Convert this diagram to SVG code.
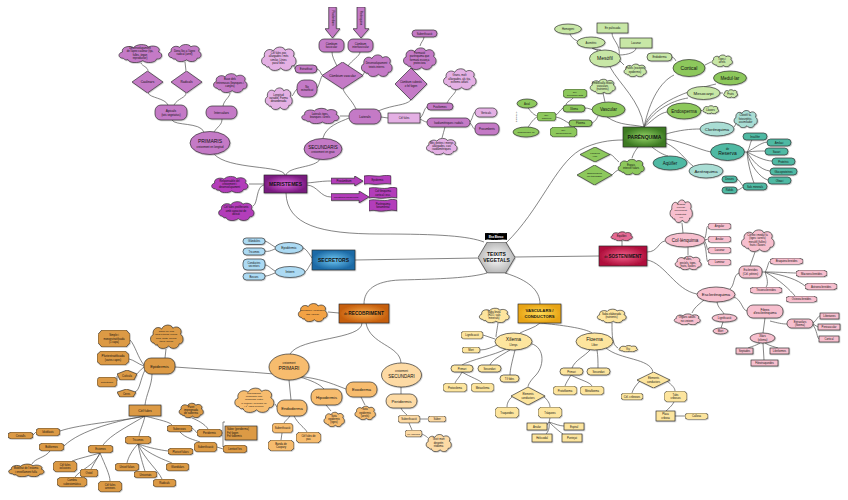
<svg xmlns="http://www.w3.org/2000/svg" width="848" height="500" viewBox="0 0 848 500">
<defs>
<style>
text{font-family:"Liberation Sans",Arial,sans-serif;fill:#111;text-anchor:middle}
.c path{fill:none;stroke:#505050;stroke-width:.7}
.k{stroke:#2a2a2a;stroke-width:.65;filter:url(#sh)}
.s{font-size:2.7px}.t{font-size:3.2px}.m{font-size:4px}.l{font-size:5px}.b{font-weight:bold}
.pm{fill:#c47ac6}.pl{fill:#e4b0e4}.pb{fill:#b33dba}
.gm{fill:#8dc85c}.gl{fill:#c8e7a6}.tm{fill:#4fb9a3}.tl{fill:#a9ddd4}
.bl{fill:#acdaf3}.kl{fill:#f7bfce}.kp{fill:#e56a94}
.om{fill:#dc9a44}.ol{fill:#f7bc6e}.ox{fill:#fddaa4}.ob{fill:#f2a244}.yl{fill:#fde59e}
</style>
<filter id="sh" x="-20%" y="-20%" width="140%" height="140%"><feDropShadow dx="0.6" dy="0.6" stdDeviation="0.4" flood-color="#000" flood-opacity="0.3"/></filter>
<symbol id="cl" viewBox="0 0 100 60" preserveAspectRatio="none"><path vector-effect="non-scaling-stroke" d="M14,46 C2,46 1,30 12,27 C8,12 28,6 36,14 C42,2 64,2 68,12 C80,4 98,14 90,26 C102,32 98,50 86,48 C84,60 64,62 56,53 C46,62 26,60 24,50 C20,52 16,50 14,46 Z"/></symbol>
<symbol id="oc" viewBox="0 0 100 100" preserveAspectRatio="none"><polygon vector-effect="non-scaling-stroke" points="12,0 88,0 100,25 100,75 88,100 12,100 0,75 0,25"/></symbol>
<symbol id="di" viewBox="0 0 100 100" preserveAspectRatio="none"><polygon vector-effect="non-scaling-stroke" points="50,0 100,50 50,100 0,50"/></symbol>
<symbol id="pe" viewBox="0 0 100 100" preserveAspectRatio="none"><polygon vector-effect="non-scaling-stroke" points="50,0 100,40 85,100 15,100 0,40"/></symbol>
<symbol id="hx" viewBox="0 0 100 100" preserveAspectRatio="none"><polygon vector-effect="non-scaling-stroke" points="25,0 75,0 100,50 75,100 25,100 0,50"/></symbol>
<symbol id="ar" viewBox="0 0 100 100" preserveAspectRatio="none"><polygon vector-effect="non-scaling-stroke" points="0,22 74,22 74,0 100,50 74,100 74,78 0,78"/></symbol>
<symbol id="ad" viewBox="0 0 100 100" preserveAspectRatio="none"><polygon vector-effect="non-scaling-stroke" points="25,0 75,0 75,70 100,70 50,100 0,70 25,70"/></symbol>
<symbol id="fl" viewBox="0 0 100 100" preserveAspectRatio="none"><path vector-effect="non-scaling-stroke" d="M0,10 C25,-5 50,25 75,5 C85,0 95,5 100,10 L100,90 C75,75 50,105 25,90 C15,85 5,88 0,92 Z"/></symbol>
<radialGradient id="gP"><stop offset="0" stop-color="#dc62dc"/><stop offset="1" stop-color="#7a1a80"/></radialGradient>
<radialGradient id="gG"><stop offset="0" stop-color="#94d466"/><stop offset="1" stop-color="#3c7a22"/></radialGradient>
<radialGradient id="gB"><stop offset="0" stop-color="#70c8f2"/><stop offset="1" stop-color="#1c6aa6"/></radialGradient>
<radialGradient id="gK"><stop offset="0" stop-color="#f2608c"/><stop offset="1" stop-color="#b0103c"/></radialGradient>
<radialGradient id="gO"><stop offset="0" stop-color="#f8ac4c"/><stop offset="1" stop-color="#c65e0c"/></radialGradient>
<radialGradient id="gY"><stop offset="0" stop-color="#ffdc58"/><stop offset="1" stop-color="#e8a414"/></radialGradient>
<radialGradient id="gH"><stop offset="0" stop-color="#ffffff"/><stop offset="1" stop-color="#b8b8b8"/></radialGradient>
</defs>
<rect width="848" height="500" fill="#fff"/>

<g id="connectors" class="c">
<path d="M484,242 C468,236 440,234 380,234 C320,234 287,225 286,193"/>
<path d="M506,243 C540,210 555,165 580,150 C595,142 610,140 623,140"/>
<path d="M515,257 L599,256"/>
<path d="M478,258 L355,260"/>
<path d="M487,273 C470,278 440,279 400,280 C375,281 364,290 364,304"/>
<path d="M505,273 C528,280 540,290 540,304"/>
<path d="M264,184 L249,184"/>
<path d="M264,185 C256,186 258,204 253,206"/>
<path d="M307,183 C318,182 322,181 331,181"/>
<path d="M307,185 C318,186 320,197 331,197"/>
<path d="M285,175 C283,165 228,170 214,154"/>
<path d="M286,175 C289,166 316,168 320,159"/>
<path d="M204,132 C200,122 175,126 172,120"/>
<path d="M214,132 C218,126 222,125 222,119"/>
<path d="M168,105 C165,98 150,98 148,93"/>
<path d="M174,105 C178,98 186,98 186,93"/>
<path d="M148,71 C148,67 142,66 141,63"/>
<path d="M186,71 L185,62"/>
<path d="M223,106 C224,100 230,97 230,93"/>
<path d="M323,138 C326,126 340,122 349,118"/>
<path d="M349,116 L340,116"/>
<path d="M356,109 C352,100 345,95 343,89"/>
<path d="M381,117 L388,118"/>
<path d="M378,111 C395,104 405,106 411,100"/>
<path d="M337,66 C334,60 332,56 332,52"/>
<path d="M348,66 C352,60 360,56 360,52"/>
<path d="M322,75 C320,72 320,70 317,69"/>
<path d="M322,76 C320,80 319,86 317,88"/>
<path d="M295,69 C294,67 294,66 294,65"/>
<path d="M297,89 C294,92 294,94 292,96"/>
<path d="M363,75 C365,72 365,70 366,68"/>
<path d="M411,68 L415,69"/>
<path d="M420,46 C421,42 424,40 424,37"/>
<path d="M420,118 C424,115 424,108 427,107"/>
<path d="M420,119 C424,121 425,122 427,122"/>
<path d="M447,103 C450,97 455,94 456,90"/>
<path d="M470,122 C473,118 473,113 475,112"/>
<path d="M470,123 C473,126 473,129 475,129"/>
<path d="M445,127 C444,131 443,134 442,138"/>
<path d="M607,117 C620,126 632,124 644,127"/>
<path d="M644,127 C640,100 620,85 610,67"/>
<path d="M644,127 C650,100 660,82 674,75"/>
<path d="M644,127 C652,102 690,90 716,84"/>
<path d="M644,127 C655,108 675,100 688,98"/>
<path d="M644,127 C655,118 660,113 667,112"/>
<path d="M666,134 C680,130 690,129 700,129"/>
<path d="M666,139 C685,142 700,150 711,152"/>
<path d="M666,143 C680,150 685,160 693,166"/>
<path d="M652,147 C658,152 664,155 668,156"/>
<path d="M598,51 C590,45 572,42 570,34"/>
<path d="M601,50 C598,49 594,50 592,48"/>
<path d="M619,55 C621,45 612,40 612,33"/>
<path d="M619,55 C628,55 636,52 636,48"/>
<path d="M620,61 L624,65"/>
<path d="M672,57 C675,58 675,60 676,61"/>
<path d="M705,65 L711,62"/>
<path d="M720,93 L723,93"/>
<path d="M701,111 L702,110"/>
<path d="M734,127 L736,124"/>
<path d="M744,152 L747,152"/>
<path d="M747,152 C750,148 750,142 752,140"/>
<path d="M747,152 C755,148 760,143 767,142"/>
<path d="M747,152 C755,151 760,151 765,151"/>
<path d="M747,152 C755,156 765,161 772,161"/>
<path d="M747,152 C752,160 760,170 770,171"/>
<path d="M747,152 C750,165 760,178 768,180"/>
<path d="M747,152 C748,165 752,178 754,183"/>
<path d="M743,186 C740,182 739,180 737,179"/>
<path d="M743,187 C740,189 739,190 737,190"/>
<path d="M593,110 C590,109 588,108 585,108"/>
<path d="M592,123 C596,121 597,118 598,116"/>
<path d="M605,102 L603,93"/>
<path d="M563,108 C560,110 558,114 556,115"/>
<path d="M556,117 C562,118 566,122 569,123"/>
<path d="M572,126 C568,127 565,127 564,127"/>
<path d="M566,105 C566,102 572,100 573,98"/>
<path d="M537,116 C532,114 530,110 528,108"/>
<path d="M537,117 C532,120 530,125 528,127"/>
<path d="M632,158 C634,152 636,150 638,147"/>
<path d="M610,154 C614,156 616,160 619,162"/>
<path d="M612,175 C615,172 617,170 619,170"/>
<path d="M312,258 C308,252 306,249 303,248"/>
<path d="M312,262 C308,268 307,271 305,272"/>
<path d="M275,247 C270,244 268,242 265,241"/>
<path d="M275,249 C270,251 268,252 265,251"/>
<path d="M275,271 C270,268 268,265 265,265"/>
<path d="M275,273 C270,275 268,276 265,276"/>
<path d="M622,241 L622,246"/>
<path d="M647,252 C658,252 658,242 665,241"/>
<path d="M647,260 C665,263 675,290 697,294"/>
<path d="M683,233 L682,223"/>
<path d="M705,238 C707,232 706,227 708,226"/>
<path d="M705,240 L708,239"/>
<path d="M705,242 C707,245 707,250 708,250"/>
<path d="M704,243 C707,250 706,261 708,262"/>
<path d="M688,247 L688,255"/>
<path d="M730,289 C735,285 733,275 739,273"/>
<path d="M734,297 C742,300 742,310 747,311"/>
<path d="M704,300 C698,305 694,308 692,313"/>
<path d="M717,302 C718,308 722,310 724,314"/>
<path d="M723,322 L721,328"/>
<path d="M750,266 L755,252"/>
<path d="M762,272 L765,272"/>
<path d="M765,272 C768,268 768,262 770,261"/>
<path d="M765,272 C780,272 790,273 796,273"/>
<path d="M765,272 C785,275 798,280 805,286"/>
<path d="M765,272 C780,280 790,290 795,296"/>
<path d="M765,272 C768,280 768,285 766,287"/>
<path d="M765,318 L763,333"/>
<path d="M770,321 C778,323 782,324 787,324"/>
<path d="M813,323 C817,320 818,316 820,316"/>
<path d="M813,324 L818,327"/>
<path d="M813,325 C817,330 817,338 819,339"/>
<path d="M760,343 C755,346 750,347 748,348"/>
<path d="M765,343 C770,346 775,347 778,348"/>
<path d="M763,343 L764,360"/>
<path d="M328,312 L339,313"/>
<path d="M362,323 C362,340 300,337 290,354"/>
<path d="M366,323 C370,345 400,345 401,363"/>
<path d="M175,367 C215,370 260,372 305,377 C325,380 335,385 346,389"/>
<path d="M300,377 C310,380 320,384 324,389"/>
<path d="M289,380 L291,400"/>
<path d="M277,407 L275,404"/>
<path d="M290,416 C288,419 285,421 284,423"/>
<path d="M294,416 C298,424 305,428 307,432"/>
<path d="M282,433 L281,440"/>
<path d="M326,405 L331,411"/>
<path d="M361,397 C362,400 364,402 365,405"/>
<path d="M401,387 L401,394"/>
<path d="M401,408 C402,411 405,413 407,415"/>
<path d="M420,419 L428,419"/>
<path d="M409,423 L412,430"/>
<path d="M422,434 C426,436 427,437 428,438"/>
<path d="M165,358 L166,349"/>
<path d="M144,365 C138,358 135,345 130,340"/>
<path d="M144,366 C138,364 134,360 129,359"/>
<path d="M144,367 C140,370 138,373 136,375"/>
<path d="M145,370 C140,380 140,390 135,392"/>
<path d="M117,376 L117,381"/>
<path d="M152,374 C152,385 146,395 145,405"/>
<path d="M145,416 C130,420 80,424 60,431"/>
<path d="M145,416 C120,420 80,430 64,446"/>
<path d="M145,416 C130,425 110,435 103,445"/>
<path d="M145,416 C143,425 140,430 139,436"/>
<path d="M145,416 C160,420 170,422 172,425"/>
<path d="M36,432 L33,435"/>
<path d="M50,451 C45,458 35,458 32,464"/>
<path d="M100,453 C90,456 80,458 72,461"/>
<path d="M100,453 L91,469"/>
<path d="M100,453 C95,465 80,470 75,477"/>
<path d="M100,453 C105,465 110,475 110,481"/>
<path d="M138,444 C132,450 128,458 127,463"/>
<path d="M138,444 C140,455 143,465 145,471"/>
<path d="M138,444 C145,460 158,470 162,479"/>
<path d="M138,444 C150,455 165,460 172,463"/>
<path d="M138,444 C150,448 160,450 168,451"/>
<path d="M192,428 C195,430 196,432 197,433"/>
<path d="M180,432 C185,438 195,440 200,442"/>
<path d="M192,418 C197,420 205,424 208,429"/>
<path d="M222,433 L223,433"/>
<path d="M217,447 L223,449"/>
<path d="M225,422 L223,422 L223,447 L225,447"/>
<path d="M498,323 C497,330 496,335 496,337"/>
<path d="M483,335 L495,339"/>
<path d="M480,350 C487,350 492,347 497,345"/>
<path d="M540,323 C535,328 525,330 520,333"/>
<path d="M540,323 C560,325 585,328 592,333"/>
<path d="M506,349 C495,355 470,360 462,365"/>
<path d="M510,350 C500,356 492,360 490,365"/>
<path d="M515,350 C512,362 510,370 510,375"/>
<path d="M528,343 C545,345 545,365 536,375 C530,381 528,385 528,387"/>
<path d="M462,372 C460,377 456,380 455,383"/>
<path d="M462,372 C470,377 480,380 482,383"/>
<path d="M513,396 C508,400 507,404 507,407"/>
<path d="M543,396 C548,400 550,404 550,407"/>
<path d="M550,418 L549,422"/>
<path d="M549,422 L546,426"/>
<path d="M549,422 C555,424 560,426 564,426"/>
<path d="M549,422 C550,428 548,432 546,434"/>
<path d="M549,422 C555,428 560,432 563,434"/>
<path d="M612,323 C612,335 612,345 618,348"/>
<path d="M590,350 C585,356 575,360 572,368"/>
<path d="M597,350 C598,356 598,362 598,368"/>
<path d="M571,375 C568,380 566,383 565,386"/>
<path d="M571,375 C580,380 590,382 592,386"/>
<path d="M606,348 C620,360 650,358 653,372"/>
<path d="M640,381 C636,385 633,389 632,393"/>
<path d="M667,381 C672,385 675,388 675,391"/>
<path d="M674,402 C672,406 668,409 666,411"/>
<path d="M675,416 L685,416"/>
</g>

<!-- Central -->
<g id="n-teixits"><use href="#hx" class="k" fill="url(#gH)" x="478" y="242" width="37" height="31"/><text class="l b" x="496.5" y="255.5">TEIXITS</text><text class="l b" x="496.5" y="262">VEGETALS</text></g>
<g id="n-elsa"><use href="#fl" x="485" y="233" width="22" height="7" fill="#000" stroke="#000"/><text x="496" y="237.8" style="font-size:2.6px;font-weight:bold;fill:#fff">Elsa Blanco</text></g>

<!-- Purple -->
<g id="n-cl-caul"><use href="#cl" class="k pm" x="117" y="43" width="46" height="20"/><text class="s" x="140" y="49.1"><tspan x="140">Desenvolupament</tspan><tspan x="140" dy="3.3">de l'àpex caulinar (tija,</tspan><tspan x="140" dy="3.3">fulles, òrgan</tspan><tspan x="140" dy="3.3">reproductor)</tspan></text></g>
<g id="n-cl-rad"><use href="#cl" class="k pm" x="167" y="43" width="35" height="19"/><text class="s" x="184.5" y="51.9"><tspan x="184.5">Dona lloc a l'àpex</tspan><tspan x="184.5" dy="3.3">radical (arrel)</tspan></text></g>
<g id="n-cl-base"><use href="#cl" class="k pm" x="212" y="72" width="36" height="21"/><text class="s" x="230" y="80.3"><tspan x="230">Base dels</tspan><tspan x="230" dy="3.3">entrenusos (branques i</tspan><tspan x="230" dy="3.3">canyes)</tspan></text></g>
<g id="n-caulinars"><use href="#di" class="k pm" x="132" y="71" width="31" height="22"/><text class="t" x="147.5" y="83.2">Caulinars</text></g>
<g id="n-radicals"><use href="#di" class="k pm" x="171" y="71" width="31" height="22"/><text class="t" x="186.5" y="83.2">Radicals</text></g>
<g id="n-apicals"><rect class="k pm" x="155" y="105" width="32" height="15" rx="6"/><text class="t" x="171" y="111.5">Apicals</text><text class="s" x="171" y="116">(tots vegetatius)</text></g>
<g id="n-intercalars"><rect class="k pm" x="206" y="106" width="31" height="13" rx="6"/><text class="t" x="221.5" y="113.7">Intercalars</text></g>
<g id="n-primaris"><ellipse class="k pm" cx="210" cy="143" rx="20" ry="11.5"/><text class="l" x="210" y="143">PRIMARIS</text><text class="s" x="210" y="147.5">creixement en longitud</text></g>
<g id="n-cl-poc"><use href="#cl" class="k pl" x="260" y="45" width="37" height="26"/><text class="s" x="278.5" y="54.1"><tspan x="278.5">Cèl·lules poc</tspan><tspan x="278.5" dy="3.3">allargades i més</tspan><tspan x="278.5" dy="3.3">similar. Línies</tspan><tspan x="278.5" dy="3.3">paral·leles</tspan></text></g>
<g id="n-cl-long"><use href="#cl" class="k pl" x="264" y="86" width="29" height="24"/><text class="s" x="278.5" y="95.8"><tspan x="278.5">Longitud</tspan><tspan x="278.5" dy="3.3">variable. Forma</tspan><tspan x="278.5" dy="3.3">desordenada</tspan></text></g>
<g id="n-estrat"><rect class="k pm" x="295" y="65" width="22" height="8" rx="4"/><text class="s" x="306" y="70">Estratificat</text></g>
<g id="n-noestrat"><rect class="k pm" x="297" y="80" width="20" height="17" rx="7"/><text class="s" x="307" y="87.9"><tspan x="307">No</tspan><tspan x="307" dy="3.3">estratificat</tspan></text></g>
<g id="n-arr-proc"><use href="#ad" class="k pm" x="325" y="7" width="15" height="31"/><text class="s" transform="translate(332.5,18) rotate(90)" y="1">Procàmbium</text></g>
<g id="n-arr-par"><use href="#ad" class="k pm" x="353" y="7" width="16" height="31"/><text class="s" transform="translate(361,18) rotate(90)" y="1">Parènquima</text></g>
<g id="n-cfasc"><rect class="k pm" x="319" y="39" width="25" height="13" rx="5"/><text class="s" x="331.5" y="44.9"><tspan x="331.5">Càmbium</tspan><tspan x="331.5" dy="3.3">fascicular</tspan></text></g>
<g id="n-cinter"><rect class="k pm" x="348" y="39" width="25" height="13" rx="5"/><text class="s" x="360.5" y="44.9"><tspan x="360.5">Càmbium</tspan><tspan x="360.5" dy="3.3">interfascicular</tspan></text></g>
<g id="n-cvasc"><use href="#di" class="k pm" x="322" y="62" width="41" height="27"/><text class="t" x="342.5" y="76.6">Càmbium vascular</text></g>
<g id="n-cl-desenv"><use href="#cl" class="k pm" x="360" y="53" width="33" height="24"/><text class="s" x="376.5" y="64.4"><tspan x="376.5">Desenvolupament</tspan><tspan x="376.5" dy="3.3">teixits interns</tspan></text></g>
<g id="n-csuber"><use href="#di" class="k pm" x="395" y="68" width="32" height="32"/><text class="s" x="411" y="83.4"><tspan x="411">Càmbium suberós</tspan><tspan x="411" dy="3.3">o fel·logen</tspan></text></g>
<g id="n-cl-form"><use href="#cl" class="k pm" x="402" y="46" width="35" height="24"/><text class="s" x="419.5" y="54.1"><tspan x="419.5">Formació</tspan><tspan x="419.5" dy="3.3">parènquima que</tspan><tspan x="419.5" dy="3.3">formarà escorça</tspan><tspan x="419.5" dy="3.3">protectora</tspan></text></g>
<g id="n-suberif1"><rect class="k pm" x="412" y="30" width="25" height="7" rx="3.5"/><text class="s" x="424.5" y="34.5">Suberificació</text></g>
<g id="n-cl-grans"><use href="#cl" class="k pl" x="442" y="67" width="35" height="23"/><text class="s" x="459.5" y="76.3"><tspan x="459.5">Grans, molt</tspan><tspan x="459.5" dy="3.3">allargades, als tija,</tspan><tspan x="459.5" dy="3.3">extrems afilats</tspan></text></g>
<g id="n-laterals"><rect class="k pm" x="349" y="109" width="32" height="15" rx="7"/><text class="t" x="365" y="117.7">Laterals</text></g>
<g id="n-cl-lat"><use href="#cl" class="k pm" x="300" y="107" width="40" height="17"/><text class="s" x="320" y="114.9"><tspan x="320">Laterals tiges,</tspan><tspan x="320" dy="3.3">branques i arrels</tspan></text></g>
<g id="n-cellules1"><rect class="k pl" x="388" y="113" width="32" height="10"/><text class="s" x="404" y="119">Cèl·lules</text></g>
<g id="n-fusif"><rect class="k pm" x="427" y="103" width="26" height="7" rx="3.5"/><text class="s" x="440" y="107.5">Fusiformes</text></g>
<g id="n-isod"><rect class="k pm" x="427" y="118" width="43" height="9" rx="4.5"/><text class="s" x="448.5" y="123.5">Isodiamètriques i radials</text></g>
<g id="n-vertic"><rect class="k pl" x="475" y="108" width="22" height="9" rx="4.5"/><text class="s" x="486" y="113.5">Verticals</text></g>
<g id="n-procumb"><rect class="k pm" x="475" y="123" width="24" height="12" rx="5"/><text class="s" x="487" y="130">Procumbents</text></g>
<g id="n-cl-mes"><use href="#cl" class="k pl" x="425" y="137" width="33" height="18"/><text class="s" x="441.5" y="143.8"><tspan x="441.5">Més petites i menys</tspan><tspan x="441.5" dy="3.3">allargades, casi</tspan><tspan x="441.5" dy="3.3">isodiamètriques</tspan></text></g>
<g id="n-secundaris"><ellipse class="k pm" cx="323" cy="149" rx="19" ry="10.5"/><text x="323" y="149" style="font-size:4.5px">SECUNDARIS</text><text class="s" x="323" y="153">creixement en gruix</text></g>
<g id="n-meristemes"><rect class="k" fill="url(#gP)" x="264" y="175" width="43" height="18"/><text class="l b" x="285.5" y="185.8">MERISTEMES</text></g>
<g id="n-cl-resp"><use href="#cl" class="k pb" x="210" y="175" width="39" height="18"/><text class="s" x="229.5" y="181.8"><tspan x="229.5">Responsable del</tspan><tspan x="229.5" dy="3.3">creixement i</tspan><tspan x="229.5" dy="3.3">desenvolupament</tspan></text></g>
<g id="n-cl-prolif"><use href="#cl" class="k pb" x="217" y="200" width="38" height="21"/><text class="s" x="236" y="208.3"><tspan x="236">Cèl·lules proliferants</tspan><tspan x="236" dy="3.3">amb capacitat de</tspan><tspan x="236" dy="3.3">divisió</tspan></text></g>
<g id="n-procamb"><use href="#ar" class="k pb" x="331" y="176" width="32" height="10"/><text class="s" x="344" y="182">Procàmbium</text></g>
<g id="n-epid-fl"><use href="#fl" class="k pb" x="364" y="175" width="27" height="10"/><text class="s" x="377.5" y="181">Epidermis</text></g>
<g id="n-merfon"><use href="#ar" class="k pb" x="331" y="191" width="38" height="12"/><text x="346" y="198" style="font-size:2.5px">Meristema fonamental</text></g>
<g id="n-fl-col"><use href="#fl" class="k pb" x="369" y="187" width="28" height="12"/><text class="s" x="383" y="192.4"><tspan x="383">Col·lènquima</tspan><tspan x="383" dy="3.3">cortical i esc.</tspan></text></g>
<g id="n-fl-par"><use href="#fl" class="k pb" x="369" y="199" width="28" height="13"/><text class="s" x="383" y="204.9"><tspan x="383">Parènquima</tspan><tspan x="383" dy="3.3">fonamental</tspan></text></g>

<!-- Green -->
<g id="n-homog"><ellipse class="k gl" cx="568" cy="29" rx="13.5" ry="5"/><text class="s" x="568" y="30">Homogeni</text></g>
<g id="n-asim"><ellipse class="k gl" cx="591" cy="42.5" rx="14" ry="5.5"/><text class="s" x="591" y="43.5">Asimètric</text></g>
<g id="n-palis"><rect class="k gl" x="597" y="23" width="31" height="10"/><text class="s" x="612.5" y="29">En palissada</text></g>
<g id="n-lacunar1"><rect class="k gl" x="620" y="38" width="32" height="10"/><text class="s" x="636" y="44">Lacunar</text></g>
<g id="n-mesofil"><ellipse class="k gl" cx="605" cy="58.5" rx="15.5" ry="8.5"/><text class="l" x="605" y="60.3">Mesòfil</text></g>
<g id="n-cl-fulles"><use href="#cl" class="k gl" x="623" y="63" width="24" height="14"/><text class="s" x="635" y="69.4"><tspan x="635">Fulles (excepte</tspan><tspan x="635" dy="3.3">epidermis)</tspan></text></g>
<g id="n-endod1"><rect class="k gl" x="647" y="53" width="25" height="8" rx="4"/><text class="s" x="659.5" y="58">Endoderma</text></g>
<g id="n-cortical"><ellipse class="k gm" cx="689" cy="68" rx="16" ry="8.5"/><text class="l" x="689" y="69.8">Cortical</text></g>
<g id="n-cl-tiges"><use href="#cl" class="k gl" x="711" y="54" width="22" height="13"/><text class="s" x="722" y="59.9"><tspan x="722">Tiges i</tspan><tspan x="722" dy="3.3">arrels</tspan></text></g>
<g id="n-medul"><ellipse class="k gm" cx="730" cy="78" rx="16.5" ry="7"/><text x="730" y="79.6" style="font-size:4.5px">Medul·lar</text></g>
<g id="n-mesoc"><ellipse class="k gl" cx="703.5" cy="93" rx="16.5" ry="6.5"/><text x="703.5" y="94.6" style="font-size:4.3px">Mesocarpi</text></g>
<g id="n-cl-fruits"><use href="#cl" class="k gl" x="723" y="89" width="15" height="9"/><text class="s" x="730.5" y="94.5">Fruits</text></g>
<g id="n-endosp"><ellipse class="k gm" cx="684" cy="111" rx="17" ry="8"/><text x="684" y="112.6" style="font-size:4.5px">Endosperma</text></g>
<g id="n-cl-llav"><use href="#cl" class="k gl" x="702" y="105" width="17" height="9"/><text class="s" x="710.5" y="110.5">Llavors</text></g>
<g id="n-cloren"><ellipse class="k tl" cx="717" cy="129" rx="17" ry="7"/><text x="717" y="130.6" style="font-size:4.3px">Clorènquima</text></g>
<g id="n-cl-clorof"><use href="#cl" class="k tl" x="733" y="109" width="25" height="19"/><text class="s" x="745.5" y="116.3"><tspan x="745.5">Clorofil·la,</tspan><tspan x="745.5" dy="3.3">fotosintètic,</tspan><tspan x="745.5" dy="3.3">assimilador</tspan></text></g>
<g id="n-reserva"><ellipse class="k tm" cx="727.5" cy="152" rx="17" ry="8.5"/><text class="s" x="727.5" y="149.5">de</text><text class="l" x="727.5" y="155">Reserva</text></g>
<g id="n-insul"><rect class="k tm" x="743" y="133" width="24" height="7" rx="3.5"/><text class="s" x="755" y="137.5">Insulífer</text></g>
<g id="n-amil"><rect class="k tm" x="767" y="139" width="24" height="7" rx="3.5"/><text class="s" x="779" y="143.5">Amilaci</text></g>
<g id="n-sacar"><rect class="k tm" x="765" y="148" width="23" height="7" rx="3.5"/><text class="s" x="776.5" y="152.5">Sacari</text></g>
<g id="n-prot"><rect class="k tm" x="772" y="158" width="23" height="7" rx="3.5"/><text class="s" x="783.5" y="162.5">Proteínic</text></g>
<g id="n-gluco"><rect class="k tm" x="770" y="168" width="27" height="7" rx="3.5"/><text class="s" x="783.5" y="172.5">Glucoproteïnes</text></g>
<g id="n-oleaci"><rect class="k tm" x="768" y="177" width="23" height="7" rx="3.5"/><text class="s" x="779.5" y="181.5">Oleaci</text></g>
<g id="n-sals"><rect class="k tm" x="743" y="183" width="24" height="7" rx="3.5"/><text class="s" x="755" y="187.5">Sals minerals</text></g>
<g id="n-druses"><rect class="k tm" x="722" y="176" width="15" height="6.5" rx="3.2"/><text class="s" x="729.5" y="180.3">Druses</text></g>
<g id="n-rafids"><rect class="k tm" x="722" y="187" width="15" height="6.5" rx="3.2"/><text class="s" x="729.5" y="191.3">Ràfids</text></g>
<g id="n-aeren"><ellipse class="k tl" cx="706" cy="171" rx="17" ry="7"/><text x="706" y="172.6" style="font-size:4.3px">Aerènquima</text></g>
<g id="n-aquif"><ellipse class="k tm" cx="670" cy="163" rx="17" ry="7"/><text x="670" y="164.6" style="font-size:4.5px">Aqüífer</text></g>
<g id="n-vascular"><ellipse class="k gm" cx="608.5" cy="109.5" rx="16.5" ry="7.5"/><text x="608.5" y="111.1" style="font-size:4.5px">Vascular</text></g>
<g id="n-cl-embol"><use href="#cl" class="k gl" x="589" y="78" width="27" height="16"/><text class="s" x="602.5" y="83.8"><tspan x="602.5">Embolcalla feixos</tspan><tspan x="602.5" dy="3.3">vasculars</tspan><tspan x="602.5" dy="3.3">(nutrients)</tspan></text></g>
<g id="n-xil1"><rect class="k gm" x="563" y="105" width="22" height="7" rx="3.5"/><text class="s" x="574" y="109.5">Xilema</text></g>
<g id="n-flo1"><rect class="k gm" x="569" y="120" width="23" height="6.5" rx="3.2"/><text class="s" x="580.5" y="124.2">Floema</text></g>
<g id="n-acomp"><use href="#oc" class="k gm" x="563" y="89" width="24" height="9"/><text x="575" y="92.9" style="font-size:2.5px"><tspan x="575">Cèl.</tspan><tspan x="575" dy="3">acompanyants</tspan></text></g>
<g id="n-annex1"><use href="#oc" class="k gm" x="537" y="112" width="19" height="9"/><text x="546.5" y="115.9" style="font-size:2.5px"><tspan x="546.5">Cèl.</tspan><tspan x="546.5" dy="3">annexes</tspan></text></g>
<g id="n-albumin"><use href="#oc" class="k gm" x="550" y="127" width="27" height="10"/><text x="563.5" y="131.4" style="font-size:2.5px"><tspan x="563.5">Cèl.</tspan><tspan x="563.5" dy="3">albuminòferes</tspan></text></g>
<g id="n-axial"><ellipse class="k gm" cx="527" cy="103.5" rx="10" ry="4.5"/><text class="s" x="527" y="104.5">Axial</text></g>
<g id="n-radiom"><ellipse class="k gm" cx="526" cy="132" rx="13" ry="5"/><text x="526" y="133" style="font-size:2.5px">Radiomedul·lar</text></g>
<text x="517" y="117" transform="rotate(-90 517 117)" style="font-size:2.3px">Disposició</text>
<g id="n-parenq"><rect class="k" fill="url(#gG)" x="623" y="127" width="43" height="20"/><text class="l b" x="644.5" y="138.8">PARÈNQUIMA</text></g>
<g id="n-lisig"><use href="#di" class="k gm" x="580" y="147" width="30" height="15"/><text x="595" y="153.9" style="font-size:2.5px"><tspan x="595">Lisígens</tspan><tspan x="595" dy="3">(Lis)</tspan></text></g>
<g id="n-esquiz"><use href="#di" class="k gm" x="577" y="165" width="35" height="20"/><text x="594.5" y="174.4" style="font-size:2.5px"><tspan x="594.5">Esquizògens</tspan><tspan x="594.5" dy="3">(no traumàtic)</tspan></text></g>
<g id="n-cl-espais"><use href="#cl" class="k gm" x="617" y="158" width="28" height="17"/><text class="s" x="631" y="165.9"><tspan x="631">Espais</tspan><tspan x="631" dy="3.3">intercel·lulars</tspan></text></g>

<!-- Blue -->
<g id="n-secretors"><rect class="k" fill="url(#gB)" x="312" y="250" width="43" height="20"/><text class="l b" x="333.5" y="261.8">SECRETORS</text></g>
<g id="n-epider"><ellipse class="k bl" cx="289" cy="248" rx="14" ry="5.5"/><text x="289" y="249.2" style="font-size:3.5px">Epidèrmic</text></g>
<g id="n-intern"><ellipse class="k bl" cx="290" cy="272" rx="15" ry="5.5"/><text x="290" y="273.2" style="font-size:3.5px">Intern</text></g>
<g id="n-gland"><rect class="k bl" x="243" y="238" width="22" height="6.5" rx="3.2"/><text class="s" x="254" y="242.2">Glàndules</text></g>
<g id="n-tric1"><rect class="k bl" x="243" y="248" width="22" height="7" rx="3.5"/><text class="s" x="254" y="252.5">Tricomes</text></g>
<g id="n-conduct"><rect class="k bl" x="243" y="259" width="22" height="11" rx="4"/><text class="s" x="254" y="263.9"><tspan x="254">Conductes</tspan><tspan x="254" dy="3.3">secretors</tspan></text></g>
<g id="n-bosses"><rect class="k bl" x="243" y="273" width="22" height="7" rx="3.5"/><text class="s" x="254" y="277.5">Bosses</text></g>

<!-- Pink -->
<g id="n-sostenim"><rect class="k" fill="url(#gK)" x="599" y="246" width="48" height="20"/><text x="623" y="257.7" style="font-size:4.6px;font-weight:bold"><tspan style="font-size:3px;font-weight:normal">de </tspan>SOSTENIMENT</text></g>
<g id="n-cl-equil"><use href="#cl" class="k kp" x="610" y="231" width="23" height="10"/><text class="s" x="621.5" y="237">Equilibri</text></g>
<g id="n-cl-organs"><use href="#cl" class="k kl" x="669" y="198" width="24" height="25"/><text x="681" y="205" style="font-size:2.5px"><tspan x="681">Òrgans</tspan><tspan x="681" dy="3.2">període</tspan><tspan x="681" dy="3.2">creixement.</tspan><tspan x="681" dy="3.2">Plasticitat.</tspan><tspan x="681" dy="3.2">Viu</tspan></text></g>
<g id="n-collenq"><ellipse class="k kl" cx="685" cy="240" rx="20" ry="7"/><text x="685" y="241.6" style="font-size:4.5px">Col·lènquima</text></g>
<g id="n-angular"><use href="#oc" class="k kl" x="708" y="223" width="23" height="6.5"/><text class="s" x="719.5" y="227.3">Angular</text></g>
<g id="n-anular1"><use href="#oc" class="k kl" x="708" y="236" width="23" height="6.5"/><text class="s" x="719.5" y="240.3">Anular</text></g>
<g id="n-lacunar2"><use href="#oc" class="k kl" x="708" y="247" width="23" height="6.5"/><text class="s" x="719.5" y="251.3">Lacunar</text></g>
<g id="n-laminar"><use href="#oc" class="k kl" x="708" y="259" width="23" height="6.5"/><text class="s" x="719.5" y="263.3">Laminar</text></g>
<g id="n-cl-fulles2"><use href="#cl" class="k kl" x="674" y="255" width="28" height="15"/><text class="s" x="688" y="260.3"><tspan x="688">Fulles,</tspan><tspan x="688" dy="3.3">pecíols, tiges,</tspan><tspan x="688" dy="3.3">fruits, llavors</tspan></text></g>
<g id="n-escleren"><ellipse class="k kl" cx="716" cy="294.5" rx="19" ry="7.5"/><text x="716" y="296" style="font-size:4.3px">Esclerènquima</text></g>
<g id="n-cl-cortex"><use href="#cl" class="k kl" x="740" y="228" width="35" height="24"/><text class="s" x="757.5" y="236.1"><tspan x="757.5">Còrtex i medul·la</tspan><tspan x="757.5" dy="3.3">(tiges i arrels)</tspan><tspan x="757.5" dy="3.3">mesòfil (fulles)</tspan><tspan x="757.5" dy="3.3">fruits i llavors</tspan></text></g>
<g id="n-esclereid"><rect class="k kl" x="739" y="266" width="23" height="12" rx="5"/><text class="s" x="750.5" y="271.4"><tspan x="750.5">Esclereïdes</tspan><tspan x="750.5" dy="3.3">(Cèl. pètries)</tspan></text></g>
<g id="n-braqui"><use href="#oc" class="k kl" x="770" y="258" width="33" height="6.5"/><text class="s" x="786.5" y="262.3">Braquiesclereïdes</text></g>
<g id="n-macro"><use href="#oc" class="k kl" x="796" y="270" width="31" height="7"/><text class="s" x="811.5" y="274.5">Macroesclereïdes</text></g>
<g id="n-astro"><use href="#oc" class="k kl" x="805" y="283" width="32" height="7"/><text class="s" x="821" y="287.5">Astroesclereïdes</text></g>
<g id="n-osteo"><use href="#oc" class="k kl" x="786" y="296" width="31" height="6.5"/><text class="s" x="801.5" y="300.3">Osteosclereïdes</text></g>
<g id="n-trico"><use href="#oc" class="k kl" x="750" y="287" width="32" height="6.5"/><text class="s" x="766" y="291.3">Tricoesclereïdes</text></g>
<g id="n-fibres"><rect class="k kl" x="747" y="305" width="36" height="13" rx="6"/><text class="t" x="765" y="310.9"><tspan x="765">Fibres</tspan><tspan x="765" dy="3.4">d'esclerènquima</tspan></text></g>
<g id="n-extrax"><rect class="k kl" x="787" y="319" width="26" height="9" rx="4.5"/><text class="s" x="800" y="322.9"><tspan x="800">Extraxilars</tspan><tspan x="800" dy="3.3">(floema)</tspan></text></g>
<g id="n-liber"><rect class="k kl" x="820" y="313" width="19" height="6"/><text class="s" x="829.5" y="317">Liberianes</text></g>
<g id="n-periv"><rect class="k kl" x="818" y="324" width="22" height="6"/><text class="s" x="829" y="328">Perivascular</text></g>
<g id="n-cortical2"><rect class="k kl" x="819" y="336" width="20" height="6"/><text class="s" x="829" y="340">Cortical</text></g>
<g id="n-xilars"><ellipse class="k kl" cx="762.5" cy="338" rx="12.5" ry="5"/><text class="s" x="762.5" y="337.4"><tspan x="762.5">Xilars</tspan><tspan x="762.5" dy="3.3">(xilema)</tspan></text></g>
<g id="n-septades"><rect class="k kl" x="736" y="348" width="17" height="6"/><text class="s" x="744.5" y="352">Septades</text></g>
<g id="n-librif"><rect class="k kl" x="770" y="348" width="19" height="6"/><text class="s" x="779.5" y="352">Libriformes</text></g>
<g id="n-fibrotr"><rect class="k kl" x="751" y="360" width="27" height="6"/><text class="s" x="764.5" y="364">Fibrotraqueides</text></g>
<g id="n-cl-adults"><use href="#cl" class="k kl" x="673" y="313" width="28" height="12"/><text class="s" x="687" y="318.4"><tspan x="687">Òrgans adults</tspan><tspan x="687" dy="3.3">no creixen</tspan></text></g>
<g id="n-lignif1"><ellipse class="k kl" cx="724.5" cy="318" rx="12.5" ry="4"/><text class="s" x="724.5" y="319">Lignificació</text></g>
<g id="n-mort1"><ellipse class="k kl" cx="720.5" cy="331" rx="7.5" ry="3"/><text class="s" x="720.5" y="332">Mort</text></g>

<!-- Orange recobriment -->
<g id="n-recob"><rect class="k" fill="url(#gO)" x="339" y="304" width="50" height="19"/><text x="364" y="315.3" style="font-size:4.8px;font-weight:bold"><tspan style="font-size:3px;font-weight:normal">de </tspan>RECOBRIMENT</text></g>
<g id="n-cl-recob"><use href="#cl" class="k ob" x="297" y="302" width="31" height="20"/><text x="312.5" y="311.4" style="font-size:2.5px"><tspan x="312.5">Recobreix i protegeix</tspan><tspan x="312.5" dy="3.2">(tija i arrels)</tspan></text></g>
<g id="n-primari"><ellipse class="k ol" cx="289" cy="367" rx="20" ry="13"/><text class="s" x="289" y="364">creixement</text><text class="l" x="289" y="370">PRIMARI</text></g>
<g id="n-secundari"><ellipse class="k ox" cx="401.5" cy="375" rx="20" ry="12"/><text class="s" x="401.5" y="372">creixement</text><text x="401.5" y="378" style="font-size:4.5px">SECUNDARI</text></g>
<g id="n-exod"><rect class="k ol" x="346" y="382" width="31" height="15" rx="7"/><text x="361.5" y="391" style="font-size:4.2px">Exoderma</text></g>
<g id="n-hipod"><rect class="k ol" x="311" y="389" width="31" height="16" rx="7"/><text x="326.5" y="398.5" style="font-size:4.2px">Hipodermis</text></g>
<g id="n-endod2"><rect class="k ol" x="277" y="400" width="30" height="16" rx="7"/><text x="292" y="409.5" style="font-size:4.2px">Endoderma</text></g>
<g id="n-cl-parenq"><use href="#cl" class="k ol" x="233" y="386" width="42" height="27"/><text x="254" y="394" style="font-size:2.5px"><tspan x="254">Parènquima</tspan><tspan x="254" dy="3.2">compacta com</tspan><tspan x="254" dy="3.2">epidermis (entre</tspan><tspan x="254" dy="3.2">el cortical i la medul·la)</tspan><tspan x="254" dy="3.2">i 1ª capa pericicle</tspan></text></g>
<g id="n-cl-sotat"><use href="#cl" class="k ol" x="323" y="411" width="22" height="16"/><text class="s" x="334" y="416.8"><tspan x="334">Sota</tspan><tspan x="334" dy="3.3">epidermis</tspan><tspan x="334" dy="3.3">(tiges)</tspan></text></g>
<g id="n-cl-sotaa"><use href="#cl" class="k ol" x="354" y="405" width="22" height="15"/><text class="s" x="365" y="410.3"><tspan x="365">Sota</tspan><tspan x="365" dy="3.3">epidermis</tspan><tspan x="365" dy="3.3">(arrels)</tspan></text></g>
<g id="n-suberif2"><use href="#oc" class="k ol" x="272" y="423" width="21" height="10"/><text class="s" x="282.5" y="429">Suberificació</text></g>
<g id="n-pas"><use href="#oc" class="k ol" x="296" y="432" width="25" height="11"/><text class="s" x="308.5" y="436.9"><tspan x="308.5">Cèl·lules de</tspan><tspan x="308.5" dy="3.3">pas</tspan></text></g>
<g id="n-caspary"><use href="#oc" class="k ol" x="268" y="440" width="26" height="11"/><text class="s" x="281" y="444.9"><tspan x="281">Banda de</tspan><tspan x="281" dy="3.3">Caspary</tspan></text></g>
<g id="n-perid2"><rect class="k ox" x="386" y="394" width="31" height="14" rx="7"/><text x="401.5" y="402.5" style="font-size:4.2px">Peridermis</text></g>
<g id="n-suberif3"><use href="#oc" class="k ox" x="398" y="415" width="22" height="8"/><text class="s" x="409" y="420">Suberificació</text></g>
<g id="n-suber"><use href="#oc" class="k ox" x="428" y="416" width="18" height="6"/><text class="s" x="437" y="420">Súber</text></g>
<g id="n-felod"><use href="#oc" class="k ox" x="405" y="430" width="17" height="7"/><text x="413.5" y="434.5" style="font-size:2.3px">Fel·lodermis</text></g>
<g id="n-cl-teixit"><use href="#cl" class="k ox" x="425" y="433" width="27" height="19"/><text class="s" x="438.5" y="440.3"><tspan x="438.5">Teixit mort</tspan><tspan x="438.5" dy="3.3">desprèn</tspan><tspan x="438.5" dy="3.3">ritidoma</tspan></text></g>

<!-- Orange left -->
<g id="n-epid2"><rect class="k om" x="144" y="358" width="31" height="16" rx="7"/><text x="159.5" y="367.5" style="font-size:4.2px">Epidermis</text></g>
<g id="n-cl-capa"><use href="#cl" class="k om" x="149" y="323" width="35" height="26"/><text x="166.5" y="332.1" style="font-size:2.5px"><tspan x="166.5">Capa cel·lular</tspan><tspan x="166.5" dy="3.2">més externa (Fulles,</tspan><tspan x="166.5" dy="3.2">flors, fruits, llavors,</tspan><tspan x="166.5" dy="3.2">tiges, arrels)</tspan></text></g>
<g id="n-simple"><use href="#oc" class="k om" x="98" y="330" width="32" height="17"/><text class="s" x="114" y="336.3"><tspan x="114">Simple i</tspan><tspan x="114" dy="3.3">monoestratificada</tspan><tspan x="114" dy="3.3">(1 capa)</tspan></text></g>
<g id="n-pluri"><use href="#oc" class="k om" x="97" y="351" width="32" height="14"/><text x="113" y="357.4" style="font-size:3.1px"><tspan x="113">Pluriestratificada</tspan><tspan x="113" dy="3.4" style="font-size:2.6px">(varies capes)</tspan></text></g>
<g id="n-cuticula"><use href="#pe" class="k om" x="117" y="370" width="20" height="10"/><text class="s" x="127" y="376.8">Cutícula</text></g>
<g id="n-cutin"><use href="#oc" class="k om" x="97" y="377" width="20" height="10"/><text x="107" y="383" style="font-size:2.4px">Cutinització</text></g>
<g id="n-ceres"><use href="#pe" class="k om" x="117" y="389" width="19" height="8"/><text class="s" x="126.5" y="394.8">Ceres</text></g>
<g id="n-cellules2"><rect class="k om" x="129" y="405" width="32" height="11"/><text x="145" y="411.7" style="font-size:3.5px">Cèl·lules</text></g>
<g id="n-idiob"><use href="#oc" class="k om" x="36" y="428" width="24" height="8"/><text class="s" x="48" y="433">Idioblasts</text></g>
<g id="n-crist"><use href="#oc" class="k om" x="8" y="432" width="25" height="7"/><text class="s" x="20.5" y="436.5">Cristalls</text></g>
<g id="n-bulif"><use href="#oc" class="k om" x="39" y="443" width="25" height="8"/><text class="s" x="51.5" y="448">Buliformes</text></g>
<g id="n-cl-mobil"><use href="#cl" class="k om" x="7" y="463" width="38" height="14"/><text class="s" x="26" y="469.4"><tspan x="26">Mobilitat de l'estoma</tspan><tspan x="26" dy="3.3">i enrotllament fulla</tspan></text></g>
<g id="n-estomes"><use href="#oc" class="k om" x="88" y="445" width="25" height="8"/><text class="s" x="100.5" y="450">Estomes</text></g>
<g id="n-tric2"><use href="#oc" class="k om" x="125" y="436" width="26" height="8"/><text class="s" x="138" y="441">Tricomes</text></g>
<g id="n-oclus"><use href="#oc" class="k om" x="53" y="461" width="24" height="11"/><text class="s" x="65" y="465.9"><tspan x="65">Cèl·lules</tspan><tspan x="65" dy="3.3">oclusives</tspan></text></g>
<g id="n-ostiol"><use href="#oc" class="k om" x="80" y="469" width="18" height="8"/><text class="s" x="89" y="474">Ostiol</text></g>
<g id="n-cambra"><use href="#oc" class="k om" x="57" y="477" width="30" height="10"/><text class="s" x="72" y="481.4"><tspan x="72">Cambra</tspan><tspan x="72" dy="3.3">subestomàtica</tspan></text></g>
<g id="n-annex2"><use href="#oc" class="k om" x="98" y="481" width="24" height="11"/><text class="s" x="110" y="485.9"><tspan x="110">Cèl·lules</tspan><tspan x="110" dy="3.3">annexes</tspan></text></g>
<g id="n-unicel"><use href="#oc" class="k om" x="115" y="463" width="24" height="8"/><text class="s" x="127" y="468">Unicel·lulars</text></g>
<g id="n-uniser"><use href="#oc" class="k om" x="134" y="471" width="23" height="7"/><text class="s" x="145.5" y="475.5">Uniseriats</text></g>
<g id="n-radic2"><use href="#oc" class="k om" x="153" y="479" width="23" height="8"/><text class="s" x="164.5" y="484">Radicals</text></g>
<g id="n-pluric"><use href="#oc" class="k om" x="168" y="448" width="25" height="7"/><text class="s" x="180.5" y="452.5">Pluricel·lulars</text></g>
<g id="n-glandul"><use href="#oc" class="k om" x="166" y="463" width="23" height="8"/><text class="s" x="177.5" y="468">Glandulars</text></g>
<g id="n-suberos"><use href="#oc" class="k om" x="167" y="425" width="25" height="7"/><text class="s" x="179.5" y="429.5">Suberoses</text></g>
<g id="n-perid1"><use href="#oc" class="k om" x="197" y="429" width="25" height="8"/><text class="s" x="209.5" y="434">Peridermis</text></g>
<g id="n-suberif4"><use href="#oc" class="k om" x="194" y="442" width="23" height="10"/><text class="s" x="205.5" y="448">Suberificació</text></g>
<g id="n-cl-paret"><use href="#cl" class="k om" x="178" y="402" width="26" height="16"/><text class="s" x="191" y="407.8"><tspan x="191">Paret</tspan><tspan x="191" dy="3.3">impregnada</tspan><tspan x="191" dy="3.3">de suberina</tspan></text></g>
<g id="n-suberrect"><rect class="k om" x="225" y="426" width="32" height="14"/><text class="s" x="227" y="430.3" style="text-anchor:start"><tspan x="227">Súber (periderma)</tspan><tspan x="227" dy="3.4">Fel·logen</tspan><tspan x="227" dy="3.4">Fel·lodermis</tspan></text></g>
<g id="n-lentic"><use href="#oc" class="k om" x="223" y="445" width="24" height="8"/><text class="s" x="235" y="450">Lenticel·les</text></g>

<!-- Yellow -->
<g id="n-vasc"><rect class="k" fill="url(#gY)" x="518" y="304" width="43" height="19"/><text x="539.5" y="312" style="font-size:4.2px;font-weight:bold">VASCULARS /</text><text x="539.5" y="317.6" style="font-size:4.2px;font-weight:bold">CONDUCTORS</text></g>
<g id="n-cl-bruta"><use href="#cl" class="k yl" x="478" y="307" width="32" height="16"/><text class="s" x="494" y="312.8"><tspan x="494">Saba bruta</tspan><tspan x="494" dy="3.3">(H2O, sals</tspan><tspan x="494" dy="3.3">minerals)</tspan></text></g>
<g id="n-xilema"><ellipse class="k yl" cx="513.5" cy="341.5" rx="18.5" ry="8.5"/><text class="l" x="513.5" y="341">Xilema</text><text class="s" x="513.5" y="345.5">Llenys</text></g>
<g id="n-floema"><ellipse class="k yl" cx="594.5" cy="341.5" rx="18.5" ry="8.5"/><text class="l" x="594.5" y="341">Floema</text><text class="s" x="594.5" y="345.5">Líber</text></g>
<g id="n-lignif2"><use href="#oc" class="k yl" x="461" y="331" width="22" height="8"/><text class="s" x="472" y="336">Lignificació</text></g>
<g id="n-mort2"><use href="#oc" class="k yl" x="462" y="347" width="18" height="6"/><text class="s" x="471" y="351">Mort</text></g>
<g id="n-primx"><rect class="k yl" x="451" y="365" width="22" height="7" rx="3.5"/><text class="s" x="462" y="369.5">Primari</text></g>
<g id="n-secx"><rect class="k yl" x="478" y="365" width="23" height="7" rx="3.5"/><text class="s" x="489.5" y="369.5">Secundari</text></g>
<g id="n-protox"><use href="#oc" class="k yl" x="443" y="383" width="24" height="9"/><text class="s" x="455" y="388.5">Protoxilema</text></g>
<g id="n-metax"><use href="#oc" class="k yl" x="471" y="383" width="23" height="9"/><text class="s" x="482.5" y="388.5">Metaxilema</text></g>
<g id="n-tilides"><rect class="k yl" x="500" y="375" width="19" height="7" rx="3.5"/><text class="s" x="509.5" y="379.5">Tíl·lides</text></g>
<g id="n-elcondx"><use href="#di" class="k yl" x="511" y="387" width="34" height="18"/><text class="s" x="528" y="395.4"><tspan x="528">Elements</tspan><tspan x="528" dy="3.3">conductors</tspan></text></g>
<g id="n-traqueid"><use href="#oc" class="k yl" x="495" y="407" width="24" height="11"/><text class="s" x="507" y="413.5">Traqueides</text></g>
<g id="n-traquees"><use href="#oc" class="k yl" x="538" y="407" width="24" height="11"/><text class="s" x="550" y="413.5">Tràquees</text></g>
<g id="n-anular2"><rect class="k yl" x="527" y="423" width="20" height="7"/><text class="s" x="537" y="427.5">Anular</text></g>
<g id="n-espiral"><rect class="k yl" x="564" y="423" width="20" height="7"/><text class="s" x="574" y="427.5">Espiral</text></g>
<g id="n-helic"><rect class="k yl" x="532" y="434" width="20" height="8"/><text class="s" x="542" y="439">Helicoidal</text></g>
<g id="n-puntej"><rect class="k yl" x="562" y="434" width="20" height="8"/><text class="s" x="572" y="439">Puntejat</text></g>
<g id="n-primf"><rect class="k yl" x="560" y="368" width="23" height="7" rx="3.5"/><text class="s" x="571.5" y="372.5">Primari</text></g>
<g id="n-secf"><rect class="k yl" x="587" y="368" width="23" height="7" rx="3.5"/><text class="s" x="598.5" y="372.5">Secundari</text></g>
<g id="n-protof"><use href="#oc" class="k yl" x="553" y="386" width="24" height="9"/><text class="s" x="565" y="391.5">Protofloema</text></g>
<g id="n-metaf"><use href="#oc" class="k yl" x="580" y="386" width="24" height="9"/><text class="s" x="592" y="391.5">Metafloema</text></g>
<g id="n-cl-elab"><use href="#cl" class="k yl" x="596" y="308" width="31" height="15"/><text class="s" x="611.5" y="314.9"><tspan x="611.5">Saba elaborada</tspan><tspan x="611.5" dy="3.3">(nutrients)</tspan></text></g>
<g id="n-cl-viu"><use href="#cl" class="k yl" x="618" y="345" width="20" height="7"/><text class="s" x="628" y="349.8">Viu</text></g>
<g id="n-elcondf"><use href="#di" class="k yl" x="637" y="372" width="33" height="16"/><text class="s" x="653.5" y="379.4"><tspan x="653.5">Elements</tspan><tspan x="653.5" dy="3.3">conductors</tspan></text></g>
<g id="n-cribr"><use href="#oc" class="k yl" x="621" y="393" width="22" height="7"/><text class="s" x="632" y="397.5">Cèl. cribroses</text></g>
<g id="n-tubs"><use href="#oc" class="k yl" x="664" y="391" width="23" height="11"/><text class="s" x="675.5" y="395.9"><tspan x="675.5">Tubs</tspan><tspan x="675.5" dy="3.3">cribosos</tspan></text></g>
<g id="n-placa"><rect class="k yl" x="656" y="411" width="19" height="10"/><text class="s" x="665.5" y="415.4"><tspan x="665.5">Placa</tspan><tspan x="665.5" dy="3.3">cribosa</tspan></text></g>
<g id="n-callosa"><use href="#oc" class="k yl" x="685" y="413" width="23" height="6.5"/><text class="s" x="696.5" y="417.3">Callosa</text></g>
</svg>
